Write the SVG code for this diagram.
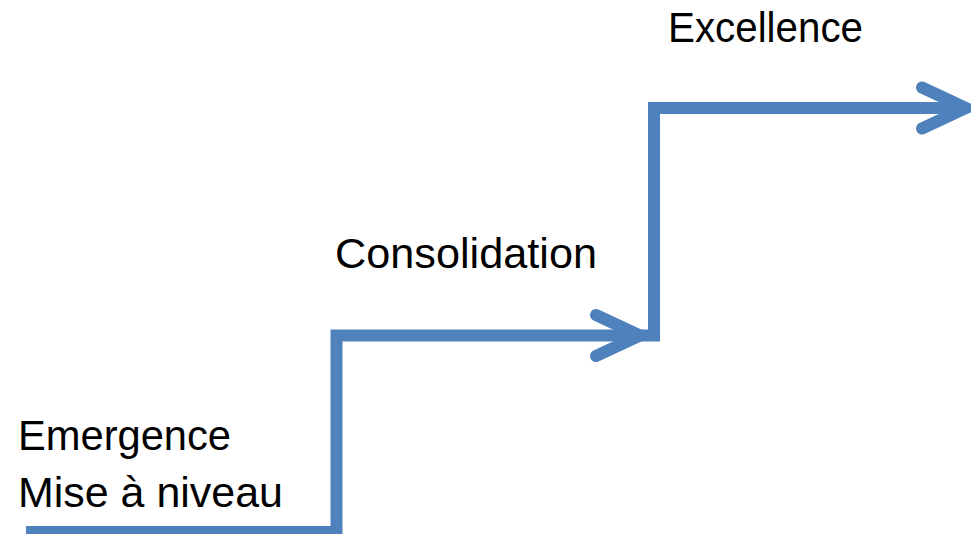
<svg xmlns="http://www.w3.org/2000/svg" width="971" height="534" viewBox="0 0 971 534">
  <style>
    .conn { fill: none; stroke: #4F81BD; stroke-width: 12; stroke-linejoin: miter; stroke-linecap: butt; }
    .lbl { font-family: "Liberation Sans", Arial, sans-serif; font-size: 42px; fill: #000000; }
  </style>
  <defs>
    <marker id="chev" markerUnits="userSpaceOnUse" viewBox="-60 -40 80 80" refX="0" refY="0" markerWidth="80" markerHeight="80" orient="auto" overflow="visible">
      <path d="M-44,-20.5 L0,0 L-44,20.5" fill="none" stroke="#4F81BD" stroke-width="12" stroke-linecap="round" stroke-linejoin="miter"/>
    </marker>
  </defs>
  <rect width="971" height="534" fill="#FFFFFF"/>
  <g id="connectors">
    <path class="conn" d="M26,532 H336.5 V335.5 H640" marker-end="url(#chev)"/>
    <path class="conn" d="M638,335.5 H654 V108 H966" marker-end="url(#chev)"/>
  </g>
  <g id="node-emergence">
    <text class="lbl" x="18" y="450" textLength="213" lengthAdjust="spacingAndGlyphs">Emergence</text>
    <text class="lbl" x="18" y="507" textLength="265" lengthAdjust="spacingAndGlyphs">Mise à niveau</text>
  </g>
  <g id="node-consolidation">
    <text class="lbl" x="335" y="268" textLength="262" lengthAdjust="spacingAndGlyphs">Consolidation</text>
  </g>
  <g id="node-excellence">
    <text class="lbl" x="668" y="42" textLength="195" lengthAdjust="spacingAndGlyphs">Excellence</text>
  </g>
</svg>
